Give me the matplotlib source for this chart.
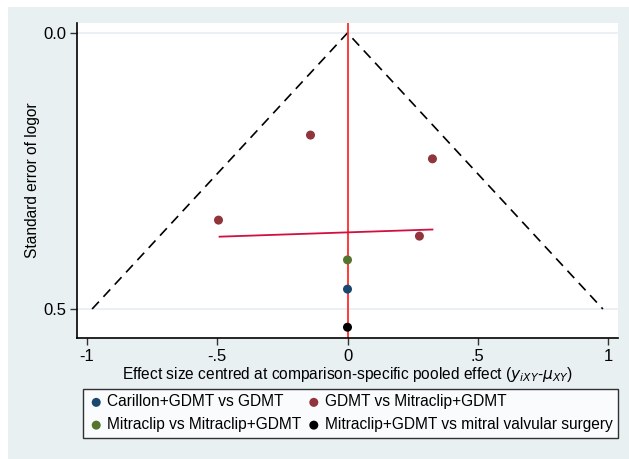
import numpy as np
import matplotlib.pyplot as plt
from matplotlib.patches import Rectangle

plt.rcParams['font.family'] = ['Liberation Sans', 'DejaVu Sans']

# study effects centred at the comparison-specific pooled effect, and their SEs
carillon_x = [0.0]
carillon_se = [0.464]
gdmt_x = [-0.142, 0.326, -0.495, 0.276]
gdmt_se = [0.185, 0.228, 0.339, 0.368]
mitra_x = [0.0]
mitra_se = [0.411]
surgery_x = [0.0]
surgery_se = [0.533]

labels = ["Carillon+GDMT vs GDMT", "GDMT vs Mitraclip+GDMT",
          "Mitraclip vs Mitraclip+GDMT", "Mitraclip+GDMT vs mitral valvular surgery"]
colors = ["#1a476f", "#90353b", "#55752f", "#000000"]

# fitted small-study line (endpoints)
fit_x = [-0.491, 0.326]
fit_se = [0.369, 0.356]

se_max = 0.5
xticks = [-1, -0.5, 0, 0.5, 1]
xticklabels = ["-1", "-.5", "0", ".5", "1"]

fig = plt.figure(figsize=(6.29, 4.59), dpi=100)
fig.patches.append(Rectangle((8/629, 0), 1, 1 - 7/459, transform=fig.transFigure,
                             facecolor="#e9f0f2", edgecolor="none", zorder=-10))
ax = fig.add_axes([77/629, 1 - 338/459, (618 - 77)/629, (338 - 23)/459])

# grid lines
for g in [0.0, 0.5]:
    ax.axhline(g, color="#e6eef1", lw=1.2, zorder=0)

# pseudo 95% confidence funnel
ax.plot([-1.96*se_max, 0, 1.96*se_max], [se_max, 0, se_max], color="black",
        lw=1.2, dashes=(6, 4), zorder=1)
ax.axvline(0, color="#ff2a2a", lw=1.3, zorder=2)
ax.plot(fit_x, fit_se, color="#d01040", lw=1.3, zorder=3)

series = [(carillon_x, carillon_se), (gdmt_x, gdmt_se), (mitra_x, mitra_se), (surgery_x, surgery_se)]
handles = []
for (xs, ys), lab, c in zip(series, labels, colors):
    h = ax.scatter(xs, ys, s=42, color=c, edgecolors="none", label=lab, zorder=4)
    handles.append(h)

ax.set_xlim(-1.038, 1.038)
ax.set_ylim(0.5525, -0.018)
ax.set_xticks(xticks)
ax.set_xticklabels(xticklabels)
ax.set_yticks([0.0, 0.5])
ax.set_yticklabels(["0.0", "0.5"])
ax.tick_params(labelsize=12, length=5, width=1, color="#333333", pad=3)
for s in ["top", "right"]:
    ax.spines[s].set_visible(False)
for s in ["left", "bottom"]:
    ax.spines[s].set_color("black")
    ax.spines[s].set_linewidth(1.2)

ax.set_ylabel("Standard error of logor", fontsize=11.2)
ax.yaxis.set_label_coords(-0.068, 0.5)
ax.set_xlabel(r"Effect size centred at comparison-specific pooled effect ($y_{iXY}$-$\mu_{XY}$)",
              fontsize=11.2, labelpad=1)

order = [0, 2, 1, 3]
leg = fig.legend([handles[i] for i in order], [labels[i] for i in order], ncol=2,
                 loc="upper left", bbox_to_anchor=(83/629, 1 - 389/459),
                 fontsize=11.2, frameon=True, fancybox=False, edgecolor="black",
                 handletextpad=0.2, columnspacing=0.3, borderaxespad=0,
                 handlelength=1.0, labelspacing=0.5, borderpad=0.35)
leg.get_frame().set_linewidth(1.0)

fig.savefig("out.png", dpi=100, facecolor="white")
